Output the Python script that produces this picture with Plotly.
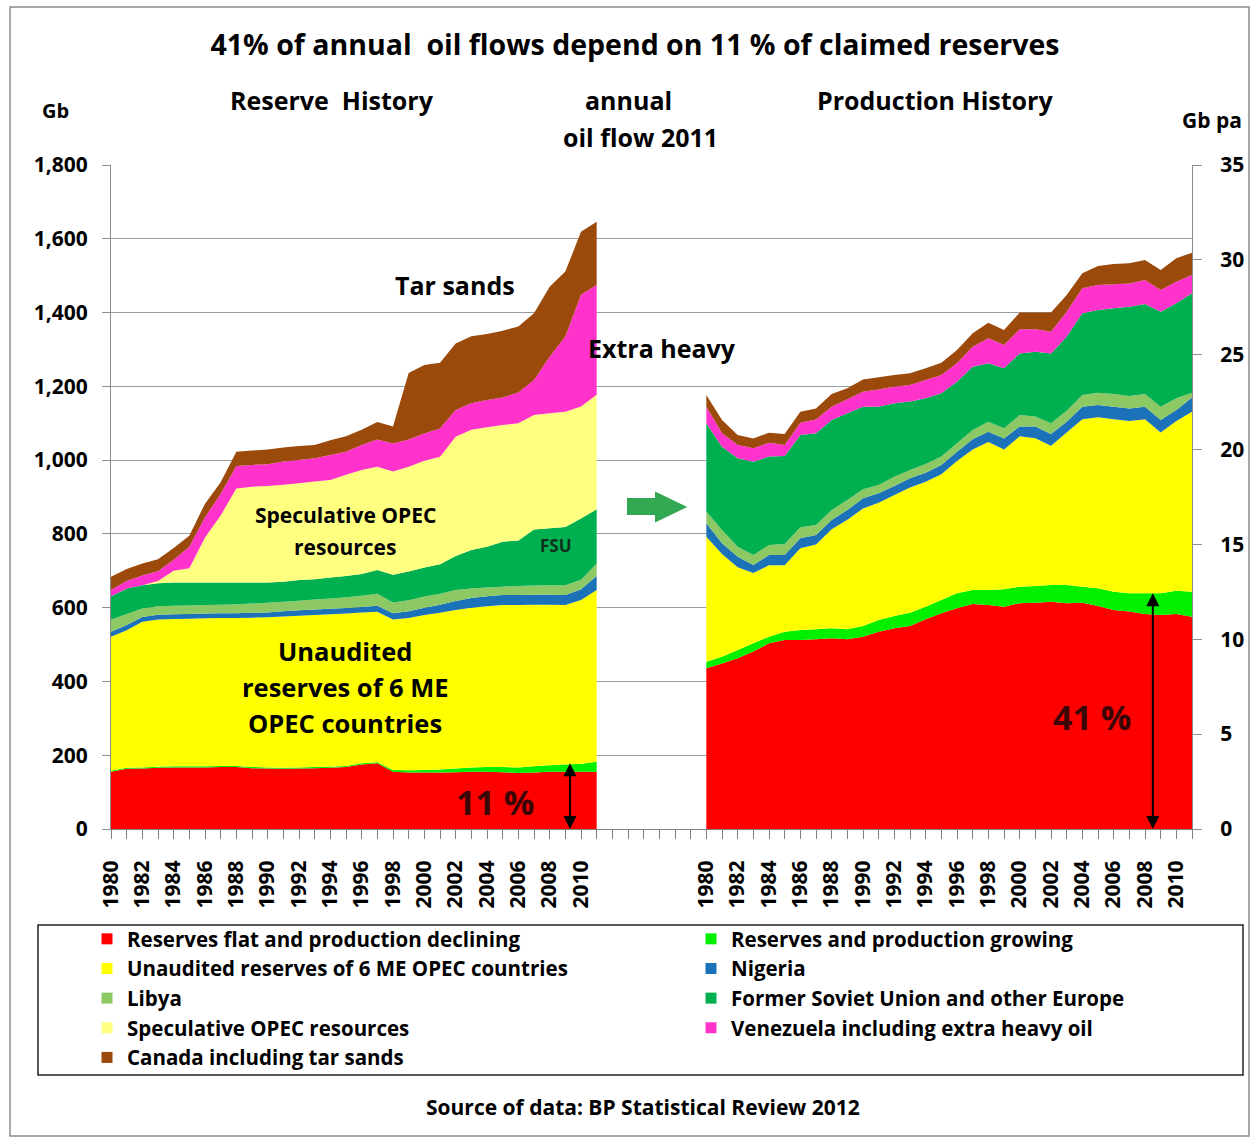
import plotly.graph_objects as go

# ---------------- data ----------------
years = list(range(1980, 2012))

# Reserve history, Gb (left panel)
res_flat = [155,163,164,166,167,167,167,168,168,165,164,163,164,165,166,168,175,178,155,153,153,153,154,155,155,154,152,153,155,155,155,155]
res_grow = [3,3,3,3,3,3,3,3,3,3,3,3,3,3,3,3,3,3,5,6,7,8,10,12,13,14,15,17,18,20,22,27]
res_unaud = [363,373,395,399,399,400,401,401,401,405,407,410,411,412,413,413,409,408,408,413,420,425,430,433,436,439,440,438,435,432,444,466]
res_nig = [14,14,13,13,13,13,13,13,13,13,13,14,15,15,15,15,15,16,17,18,20,22,24,26,27,27,27,27,27,27,29,38]
res_lib = [32,30,23,23,23,23,23,23,24,25,26,26,26,27,28,29,30,33,29,30,30,30,30,26,24,23,25,25,26,27,26,34]
res_fsu = [63,69,63,62,63,62,61,60,59,57,55,54,56,55,57,58,59,64,75,78,79,80,92,104,110,122,123,152,154,158,166,147]
res_spec = [0,0,0,6,32,39,122,182,255,260,262,263,262,265,264,274,282,280,280,284,289,291,323,326,324,316,318,310,312,312,303,310]
res_ven = [18,20,26,27,30,58,55,58,61,59,59,63,63,63,68,63,68,74,76,74,74,77,73,72,74,75,83,95,153,204,303,298]
res_can = [36,33,33,32,32,30,37,32,39,39,40,38,38,36,40,42,41,47,46,180,186,178,180,182,179,181,179,181,190,176,171,171]

# Production history, Gb per annum (right panel)
prod_flat = [8.47,8.73,9.00,9.35,9.79,9.96,9.96,10.00,10.05,10.00,10.14,10.40,10.58,10.70,11.05,11.37,11.63,11.86,11.81,11.72,11.90,11.93,11.98,11.90,11.93,11.75,11.54,11.46,11.33,11.28,11.33,11.19]
prod_grow = [0.35,0.35,0.44,0.44,0.35,0.44,0.53,0.53,0.53,0.53,0.56,0.62,0.65,0.70,0.67,0.70,0.79,0.74,0.79,0.92,0.87,0.88,0.88,0.96,0.84,0.94,0.97,0.96,1.09,1.14,1.23,1.32]
prod_unaud = [6.58,5.42,4.36,3.71,3.76,3.50,4.31,4.47,5.22,5.77,6.20,6.18,6.37,6.60,6.58,6.63,6.98,7.40,7.80,7.36,7.93,7.79,7.34,8.04,8.83,9.01,9.09,9.08,9.18,8.48,8.94,9.49]
prod_nig = [0.71,0.56,0.55,0.42,0.54,0.54,0.52,0.50,0.49,0.52,0.53,0.50,0.48,0.49,0.48,0.49,0.49,0.54,0.54,0.59,0.51,0.61,0.62,0.57,0.66,0.65,0.66,0.67,0.66,0.66,0.59,0.75]
prod_lib = [0.62,0.70,0.53,0.52,0.53,0.58,0.58,0.53,0.53,0.52,0.48,0.43,0.49,0.43,0.46,0.44,0.44,0.49,0.53,0.53,0.61,0.53,0.57,0.58,0.62,0.65,0.67,0.65,0.67,0.70,0.61,0.25]
prod_fsu = [4.66,4.39,4.66,4.92,4.66,4.64,4.87,4.83,4.74,4.57,4.35,4.13,3.87,3.61,3.46,3.34,3.25,3.34,3.08,3.16,3.25,3.42,3.68,3.90,4.30,4.36,4.52,4.71,4.74,5.01,5.01,5.24]
prod_spec = [0,0,0,0,0,0,0,0,0,0,0,0,0,0,0,0,0,0,0,0,0,0,0,0,0,0,0,0,0,0,0,0]
prod_ven = [0.87,0.71,0.70,0.71,0.73,0.58,0.65,0.73,0.70,0.74,0.79,0.91,0.87,0.87,0.97,0.96,0.97,1.05,1.32,1.23,1.27,1.18,1.14,1.32,1.32,1.32,1.26,1.23,1.27,1.14,1.14,0.96]
prod_can = [0.62,0.70,0.53,0.52,0.53,0.58,0.58,0.58,0.67,0.58,0.65,0.64,0.62,0.62,0.61,0.65,0.70,0.71,0.82,0.79,0.88,0.88,1.01,0.88,0.79,1.00,1.07,1.06,1.05,1.06,1.23,1.18]

series_names = [
    "Reserves flat and production declining",
    "Reserves and production growing",
    "Unaudited reserves of 6 ME OPEC countries",
    "Nigeria",
    "Libya",
    "Former Soviet Union and other Europe",
    "Speculative OPEC resources",
    "Venezuela including extra heavy oil",
    "Canada including tar sands",
]
series_colors = ["#FF0000", "#00F000", "#FFFF00", "#1B72B8", "#8CC864",
                 "#00AF50", "#FFFF80", "#FF33CC", "#9C4A0C"]
reserve_series = [res_flat, res_grow, res_unaud, res_nig, res_lib, res_fsu, res_spec, res_ven, res_can]
production_series = [prod_flat, prod_grow, prod_unaud, prod_nig, prod_lib, prod_fsu, prod_spec, prod_ven, prod_can]

# one shared category axis: 32 reserve years, 6 empty slots, 32 production years
GAP = 6
n = len(years)
x_res = list(range(n))
x_prod = [n + GAP + i for i in range(n)]
all_pos = list(range(2 * n + GAP))
tick_text = []
for p in all_pos:
    if p < n:
        y_ = years[p]
    elif p >= n + GAP:
        y_ = years[p - n - GAP]
    else:
        y_ = None
    tick_text.append(str(y_) if (y_ is not None and y_ % 2 == 0) else "")

FONT = "Open Sans"
fig = go.Figure()

for name, col, rv in zip(series_names, series_colors, reserve_series):
    fig.add_trace(go.Scatter(x=x_res, y=rv, name=name, stackgroup="res", mode="none",
                             fillcolor=col, yaxis="y", showlegend=False, legendgroup=name,
                             hovertemplate=name + "<br>%{text}: %{y} Gb<extra></extra>",
                             text=[str(y) for y in years]))
for name, col, pv in zip(series_names, series_colors, production_series):
    fig.add_trace(go.Scatter(x=x_prod, y=pv, name=name, stackgroup="prod", mode="none",
                             fillcolor=col, yaxis="y2", showlegend=False, legendgroup=name,
                             hovertemplate=name + "<br>%{text}: %{y} Gb pa<extra></extra>",
                             text=[str(y) for y in years]))
# legend entries: two columns (row-wise order like the original legend)
for k, (name, col) in enumerate(zip(series_names, series_colors)):
    fig.add_trace(go.Scatter(x=[None], y=[None], mode="markers", name=name, legendgroup=name,
                             legend="legend" if k % 2 == 0 else "legend2",
                             marker=dict(symbol="square", size=11, color=col), yaxis="y"))

# ---------------- layout helpers (pixel -> paper) ----------------
L, R, T, B = 111, 1192, 165, 829
W, H = 1259, 1138
def px(xp):
    return (xp - L) / (R - L)
def py(yp):
    return (B - yp) / (B - T)

def txt(text, xp, yp, size, color="black"):
    return dict(text=text, x=px(xp), y=py(yp), xref="paper", yref="paper", showarrow=False,
                font=dict(family=FONT, size=size, color=color, weight="bold"),
                xanchor="center", yanchor="middle")

annotations = [
    txt("Reserve  History", 332, 100, 25),
    txt("annual", 628, 100, 25),
    txt("oil flow 2011", 640, 137, 25),
    txt("Production History", 935, 100, 25),
    txt("Gb", 55, 110, 20),
    txt("Gb pa", 1212, 120, 21),
    txt("Tar sands", 455, 285, 25),
    txt("Extra heavy", 662, 348, 25),
    txt("Speculative OPEC", 345, 515, 21),
    txt("resources", 345, 547, 21),
    txt("FSU", 556, 545, 17, "#10301c"),
    txt("Unaudited", 345, 651, 25.5),
    txt("reserves of 6 ME", 345, 687, 25.5),
    txt("OPEC countries", 345, 723, 25.5),
    txt("11 %", 495, 802, 34, "#3a0606"),
    txt("41 %", 1092, 717, 34, "#3a0606"),
    txt("Source of data: BP Statistical Review 2012", 643, 1107, 21),
]

# double-headed arrows tied to the 2011 "reserves flat + growing" totals
res_top = res_flat[-1] + res_grow[-1]
prod_top = prod_flat[-1] + prod_grow[-1]
arrow_res_x = x_res[-1] - 1.7
arrow_prod_x = x_prod[-1] - 2.5
for xa, top, yref in [(arrow_res_x, res_top, "y"), (arrow_prod_x, prod_top, "y2")]:
    annotations.append(dict(x=xa, y=0, ax=xa, ay=top, xref="x", yref=yref, axref="x", ayref=yref,
                            text="", showarrow=True, arrowhead=2, startarrowhead=2,
                            arrowside="end+start", arrowsize=1.3, startarrowsize=1.3,
                            arrowwidth=2, arrowcolor="black"))

shapes = [
    # outer frame
    dict(type="rect", xref="paper", yref="paper", x0=px(10), x1=px(1249), y0=py(1136), y1=py(7),
         line=dict(color="#8c8c8c", width=1.5), fillcolor="rgba(0,0,0,0)", layer="below"),
    # legend frame
    dict(type="rect", xref="paper", yref="paper", x0=px(38), x1=px(1243), y0=py(1075), y1=py(925),
         line=dict(color="#202020", width=1.5), fillcolor="rgba(0,0,0,0)"),
    # green block arrow between panels
    dict(type="path", xref="paper", yref="paper",
         path=("M {a},{b} L {c},{b} L {c},{d} L {e},{f} L {c},{g} L {c},{h} L {a},{h} Z").format(
             a=px(628), b=py(499), c=px(656), d=py(493), e=px(685), f=py(507), g=py(521), h=py(514)),
         fillcolor="#33A853", line=dict(color="#33A853", width=2)),
]

legend_common = dict(orientation="v", xanchor="left", yanchor="top", borderwidth=0,
                     bgcolor="rgba(0,0,0,0)", tracegroupgap=0, itemclick=False,
                     font=dict(size=20.5, family=FONT, weight="bold"))

fig.update_layout(
    width=W, height=H,
    margin=dict(l=L, r=W - R, t=T, b=H - B),
    paper_bgcolor="white", plot_bgcolor="white",
    font=dict(family=FONT, size=21, color="black", weight="bold"),
    title=dict(text="41% of annual  oil flows depend on 11 % of claimed reserves",
               x=635 / W, y=1 - 45 / H, xanchor="center", yanchor="middle",
               font=dict(family=FONT, size=28.5, color="black", weight="bold")),
    xaxis=dict(range=[0, 2 * n + GAP - 1], tickmode="array", tickvals=all_pos, ticktext=tick_text,
               tickangle=-90, ticks="outside", ticklen=9, tickcolor="#808080",
               showline=True, linecolor="#808080", linewidth=1, showgrid=False, zeroline=False,
               ticklabelstandoff=13, tickfont=dict(size=21)),
    yaxis=dict(range=[0, 1800], dtick=200, tickformat=",", ticks="outside", ticklen=8,
               tickcolor="#8c8c8c", showline=True, linecolor="#8c8c8c", gridcolor="#9c9c9c",
               gridwidth=1, zeroline=False, ticklabelstandoff=10, tickfont=dict(size=21)),
    yaxis2=dict(range=[0, 35], dtick=5, overlaying="y", side="right", ticks="outside", ticklen=9,
                tickcolor="#8c8c8c", showline=True, linecolor="#8c8c8c", showgrid=False,
                zeroline=False, ticklabelstandoff=14, tickfont=dict(size=21)),
    legend=dict(x=px(87), y=py(919), **legend_common),
    legend2=dict(x=px(691), y=py(919), **legend_common),
    annotations=annotations,
    shapes=shapes,
    showlegend=True,
)

fig.write_html("out.html", config={"displayModeBar": False},
               post_script="document.body.style.margin='0';document.body.style.overflow='hidden';")
